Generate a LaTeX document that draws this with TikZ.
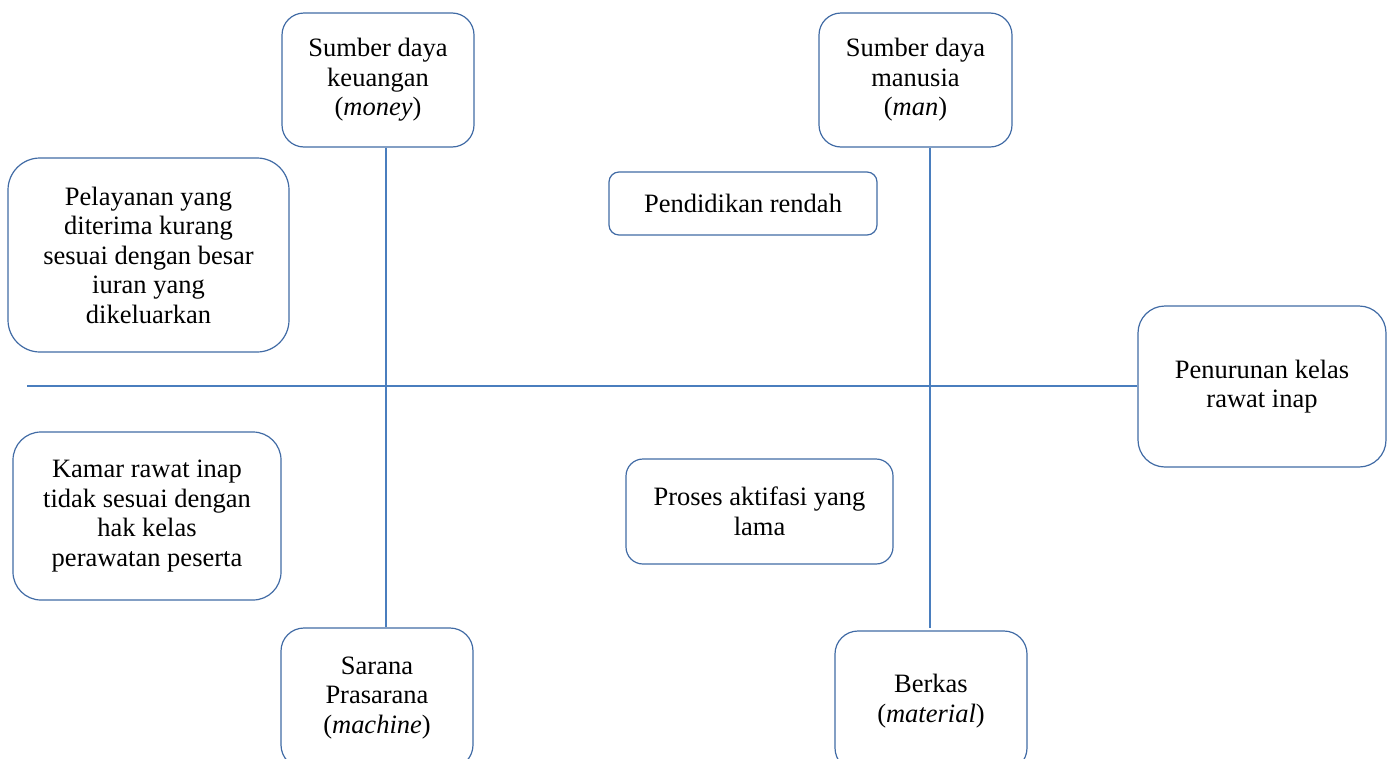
\documentclass[tikz,border=0pt]{standalone}
\usepackage{fontspec}
\setmainfont{Liberation Serif}
\definecolor{linec}{RGB}{74,126,190}
\definecolor{boxc}{RGB}{65,107,165}
\begin{document}
\begin{tikzpicture}[x=1pt,y=-1pt,
  box/.style={draw=boxc,line width=1.2pt,align=center,inner sep=0pt,
    font=\fontsize{26.5}{29.5}\selectfont},
  bone/.style={draw=linec,line width=2pt}]
\useasboundingbox (0,0) rectangle (1390,758);
\begin{scope}
\clip (0,0) rectangle (1390,758);
\node[box,minimum width=192pt,minimum height=134pt,rounded corners=22pt] (money) at (378,80) {Sumber daya\\keuangan\\(\textit{money})};
\node[box,minimum width=193pt,minimum height=134pt,rounded corners=22pt] (man) at (915.5,80) {Sumber daya\\manusia\\(\textit{man})};
\node[box,minimum width=281pt,minimum height=194pt,rounded corners=32pt] (pel) at (148.5,255) {Pelayanan yang\\diterima kurang\\sesuai dengan besar\\iuran yang\\dikeluarkan};
\node[box,minimum width=268pt,minimum height=63pt,rounded corners=10pt] (pend) at (743,203.5) {Pendidikan rendah};
\node[box,minimum width=248pt,minimum height=161pt,rounded corners=27pt] (pen) at (1262,386.5) {Penurunan kelas\\rawat inap};
\node[box,minimum width=268pt,minimum height=168pt,rounded corners=28pt] (kamar) at (147,516) {Kamar rawat inap\\tidak sesuai dengan\\hak kelas\\perawatan peserta};
\node[box,minimum width=267pt,minimum height=105pt,rounded corners=17pt] (proses) at (759.5,511.5) {Proses aktifasi yang\\lama};
\node[box,minimum width=192pt,minimum height=140pt,rounded corners=23pt] (sarana) at (377,698) {Sarana\\Prasarana\\(\textit{machine})};
\node[box,minimum width=192pt,minimum height=140pt,rounded corners=23pt] (berkas) at (931,701) {Berkas\\(\textit{material})};
\end{scope}
\coordinate (s0) at (27,386);
\coordinate (v1) at (386,386);
\coordinate (v2) at (930,386);
\coordinate (v2end) at (930,628);
\draw[bone] (s0) -- (pen.west |- s0);
\draw[bone] (v1 |- money.south) -- (v1 |- sarana.north);
\draw[bone] (v2 |- man.south) -- (v2end);
\end{tikzpicture}
\end{document}
